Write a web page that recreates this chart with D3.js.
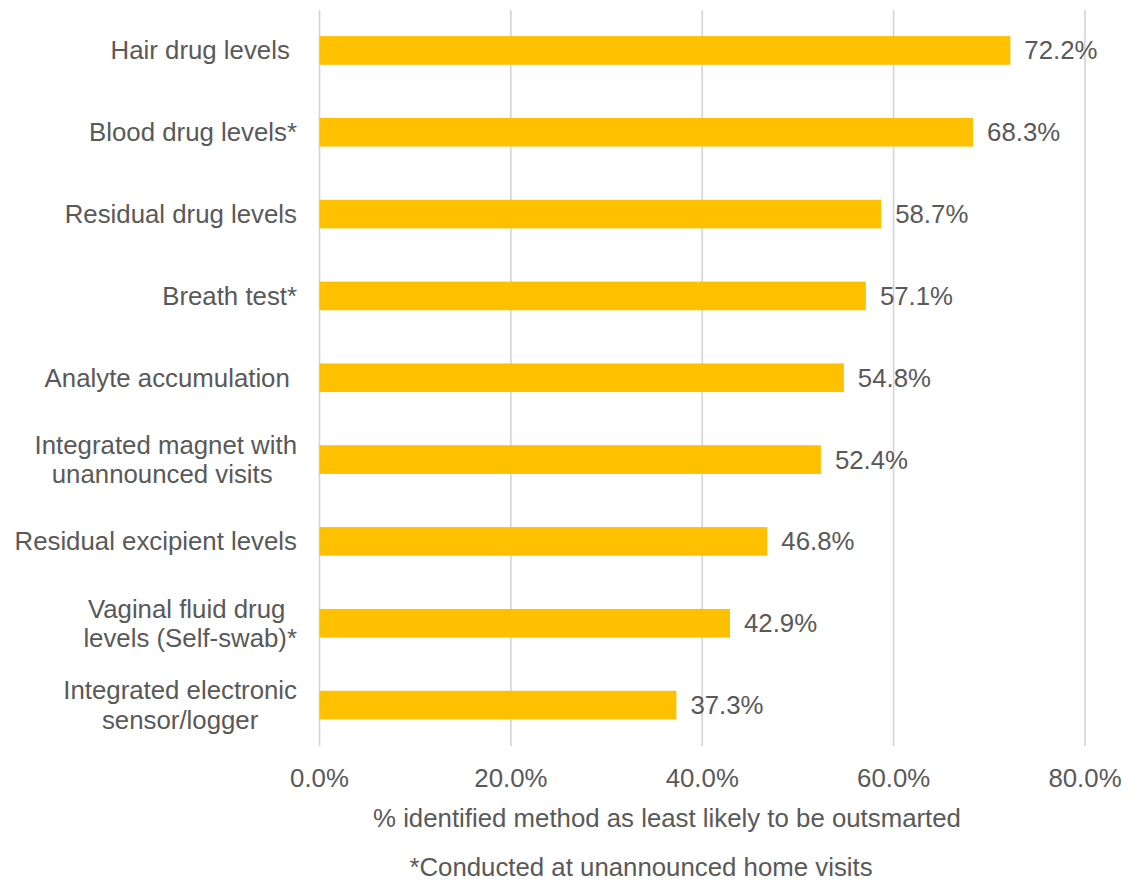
<!DOCTYPE html>
<html>
<head>
<meta charset="utf-8">
<script src="https://cdn.jsdelivr.net/npm/d3@7"></script>
<style>
  html, body { margin: 0; padding: 0; background: #fff; }
  svg text { font-family: "Liberation Sans", Arial, sans-serif; fill: #595959; white-space: pre; }
</style>
</head>
<body>
<svg id="chart" width="1138" height="882"></svg>
<script>
// Methods (line breaks mark wrapped labels; trailing spaces are part of the label text)
const categories = [
  "Hair drug levels ",
  "Blood drug levels*",
  "Residual drug levels",
  "Breath test*",
  "Analyte accumulation ",
  "Integrated magnet with\nunannounced visits ",
  "Residual excipient levels",
  "Vaginal fluid drug \nlevels (Self-swab)*",
  "Integrated electronic\nsensor/logger"
];
// % of respondents identifying the method as least likely to be outsmarted
const values = [72.2, 68.3, 58.7, 57.1, 54.8, 52.4, 46.8, 42.9, 37.3];
const ticks = [0, 20, 40, 60, 80];
const xTitle = "% identified method as least likely to be outsmarted";
const footnote = "*Conducted at unannounced home visits";

const svg = d3.select("#chart");
const fontSize = 25.8;

const x = d3.scaleLinear().domain([0, 80]).range([319.5, 1085]);
const y = d3.scaleBand().domain(categories).range([9.5, 746]).paddingInner(0.65).paddingOuter(0.325);

// Vertical gridlines
svg.append("g").selectAll("line").data(ticks).join("line")
  .attr("x1", d => x(d)).attr("x2", d => x(d))
  .attr("y1", 10).attr("y2", 746)
  .attr("stroke", "#d4d4d4").attr("stroke-width", 1.6);

// Bars
svg.append("g").selectAll("rect").data(values).join("rect")
  .attr("x", x(0))
  .attr("y", (d, i) => y(categories[i]))
  .attr("width", d => x(d) - x(0))
  .attr("height", y.bandwidth())
  .attr("fill", "#FFC000");

// Value labels
svg.append("g").selectAll("text").data(values).join("text")
  .attr("x", d => x(d) + 14)
  .attr("y", (d, i) => y(categories[i]) + y.bandwidth() / 2)
  .attr("dy", "0.35em")
  .attr("font-size", fontSize)
  .text(d => d.toFixed(1) + "%");

// Category labels: right-aligned block, wrapped lines centred within it
const labelRight = 297;
const lineH = 29.5;
const catG = svg.append("g");
categories.forEach(cat => {
  const lines = cat.split("\n");
  const cy = y(cat) + y.bandwidth() / 2;
  const texts = lines.map((ln, j) => catG.append("text")
    .attr("font-size", fontSize)
    .attr("y", cy + (j - (lines.length - 1) / 2) * lineH)
    .attr("dy", "0.35em")
    .text(ln));
  const widths = texts.map(t => t.node().getComputedTextLength());
  const blockW = d3.max(widths);
  texts.forEach((t, j) => t.attr("x", labelRight - blockW / 2 - widths[j] / 2));
});

// Tick labels
svg.append("g").selectAll("text").data(ticks).join("text")
  .attr("x", d => x(d))
  .attr("y", 787)
  .attr("text-anchor", "middle")
  .attr("font-size", fontSize)
  .text(d => d.toFixed(1) + "%");

// Axis title and footnote
svg.append("text").attr("x", 667).attr("y", 827).attr("text-anchor", "middle")
  .attr("font-size", fontSize).text(xTitle);
svg.append("text").attr("x", 641).attr("y", 876).attr("text-anchor", "middle")
  .attr("font-size", fontSize).text(footnote);
</script>
</body>
</html>
